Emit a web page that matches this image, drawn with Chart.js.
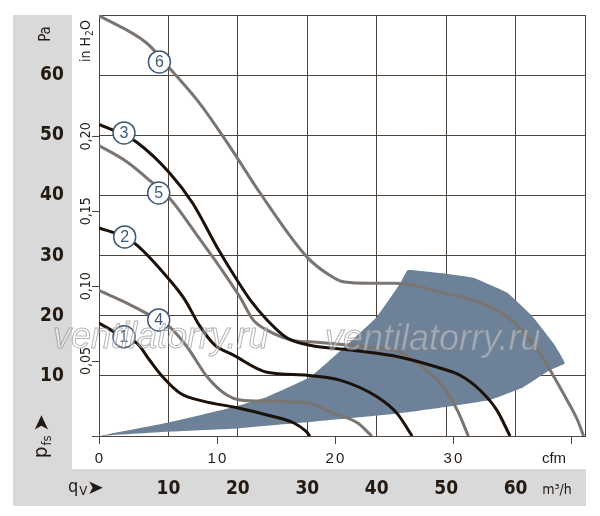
<!DOCTYPE html>
<html>
<head>
<meta charset="utf-8">
<script src="https://cdn.jsdelivr.net/npm/chart.js@4.4.0/dist/chart.umd.min.js"></script>
<style>
  html, body { margin: 0; padding: 0; background: #fff; }
  #wrap { width: 600px; height: 516px; }
</style>
</head>
<body>
<div id="wrap"><canvas id="fanChart" width="600" height="516"></canvas></div>
<script>
// fan curves: air flow q in m3/h, static pressure p in Pa
var q1 = [0, 3.6, 5.5, 7.3, 9.2, 11.7, 15.0, 19.9, 24.2, 28.0, 29.8, 30.4];
var p1 = [18.8, 16.4, 15.4, 12.6, 9.8, 7.1, 5.8, 4.7, 3.5, 2.2, 0.8, 0];

var q2 = [0, 3.7, 5.5, 10.2, 12.4, 14.5, 16.7, 19.3, 24.2, 30.0, 34.7, 40.1, 42.9, 45.1];
var p2 = [34.6, 33.1, 31.7, 25.9, 22.6, 18.3, 15.1, 13.5, 10.6, 10.1, 9.3, 6.5, 3.8, 0];

var q3 = [0, 3.7, 5.5, 10.2, 13.5, 17.0, 19.9, 21.8, 24.2, 27.1, 30.4, 36.2, 43.4, 49.1, 52.0, 54.9, 57.3, 59.2];
var p3 = [51.8, 50.0, 48.8, 43.7, 38.7, 31.4, 25.9, 22.6, 19.3, 16.3, 15.1, 14.3, 13.1, 11.3, 10.1, 7.6, 4.3, 0];

var q4 = [0, 4.0, 7.3, 10.2, 12.7, 15.6, 18.4, 20.3, 24.2, 30.0, 33.7, 37.2, 39.3];
var p4 = [24.2, 22.1, 20.1, 18.1, 14.8, 9.8, 6.8, 6.0, 5.8, 5.5, 3.8, 2.2, 0];

var q5 = [0, 4.0, 7.3, 10.2, 14.6, 17.4, 20.3, 22.2, 24.2, 28.0, 31.4, 38.6, 43.4, 45.2, 49.1, 51.6, 53.2];
var p5 = [48.3, 45.6, 42.5, 39.5, 32.6, 28.1, 23.1, 19.3, 17.6, 15.9, 15.6, 14.8, 14.0, 12.6, 8.8, 4.3, 0];

var q6 = [0, 6.9, 10.2, 14.5, 19.2, 23.2, 30.0, 33.7, 35.4, 39.0, 42.7, 45.2, 49.1, 53.9, 58.8, 61.1, 63.5, 65.4, 67.4, 68.9, 69.8];
var p6 = [69.9, 65.3, 61.1, 55.3, 47.5, 40.4, 29.7, 26.4, 25.6, 25.4, 25.4, 25.1, 23.9, 22.6, 19.8, 17.3, 13.8, 10.1, 6.0, 2.7, 0];

// operating area outline (upper edge, arc, then lower edge back to 0)
var areaQ = [0, 9.8, 19.3, 24.2, 30.4, 34.7, 40.0, 43.4, 44.5, 49.1, 53.9, 58.8, 62.5, 65.4, 67.1, 65.0, 61.1, 56.3, 49.1, 43.4, 29.0, 19.3, 9.8, 0];
var areaP = [0, 2.2, 4.8, 6.5, 9.8, 14.1, 19.8, 25.4, 27.6, 27.1, 26.3, 23.8, 19.8, 15.5, 12.1, 11.0, 8.1, 6.0, 4.7, 3.8, 2.2, 1.2, 0.7, 0];

// circled curve numbers
var curveNames = ['1', '2', '3', '4', '5', '6'];
var labelQ = [3.6, 3.7, 3.6, 8.6, 8.6, 8.7];
var labelP = [16.5, 33.1, 50.4, 19.3, 40.4, 62.2];

// tick labels
var paTicks = [10, 20, 30, 40, 50, 60];
var flowTicks = [10, 20, 30, 40, 50, 60];
var inH2OTicks = [0, 0.05, 0.10, 0.15, 0.20];
var inH2OLabels = ['', '0,05', '0,10', '0,15', '0,20'];
var cfmTicks = [0, 10, 20, 30, 40];
var cfmLabels = ['0', '10', '20', '30', ''];

var PA_PER_INH2O = 249.09;
var M3H_PER_CFM = 1.699;

var BLACK = '#1c1109';
var GRAY = '#7b7571';
var GRID = '#4e443b';
var TEXT = '#231a12';
var NARROW = "'Liberation Sans Narrow', 'DejaVu Sans Condensed', 'Liberation Sans', sans-serif";

function toPoints(qs, ps) {
    return qs.map(function (q, i) { return { x: q, y: ps[i] }; });
}

function curve(qs, ps, color) {
    return {
        data: toPoints(qs, ps),
        showLine: true,
        borderColor: color,
        borderWidth: 3,
        pointRadius: 0,
        cubicInterpolationMode: 'monotone',
        fill: false,
        order: 1
    };
}

function rotatedText(ctx, text, x, y) {
    ctx.save();
    ctx.translate(x, y);
    ctx.rotate(-Math.PI / 2);
    ctx.fillText(text, 0, 0);
    ctx.restore();
}

var framePlugin = {
    id: 'frame',
    beforeDraw: function (chart) {
        var ctx = chart.ctx;
        ctx.save();
        ctx.fillStyle = '#ffffff';
        ctx.fillRect(0, 0, chart.width, chart.height);
        ctx.fillStyle = '#d9d9d9';
        ctx.fillRect(13, 15, 59, 491);
        ctx.fillRect(13, 469, 573, 37);
        ctx.restore();
    },
    afterDatasetsDraw: function (chart) {
        var ctx = chart.ctx;
        var xs = chart.scales.x, ys = chart.scales.y;
        ctx.save();
        // numbers inside the circles
        ctx.fillStyle = '#3f5a78';
        ctx.font = "16px 'Liberation Sans', sans-serif";
        ctx.textAlign = 'center';
        ctx.textBaseline = 'middle';
        curveNames.forEach(function (n, i) {
            ctx.fillText(n, xs.getPixelForValue(labelQ[i]), ys.getPixelForValue(labelP[i]) + 1);
        });
        // watermark
        ctx.font = "italic 36px 'Liberation Sans', sans-serif";
        ctx.textAlign = 'left';
        ctx.textBaseline = 'alphabetic';
        ctx.fillStyle = 'rgba(255,255,255,0.35)';
        ctx.strokeStyle = 'rgba(130,130,130,0.6)';
        ctx.lineWidth = 1;
        [[53, 348], [325, 350]].forEach(function (pos) {
            ctx.fillText('ventilatorry.ru', pos[0], pos[1]);
            ctx.strokeText('ventilatorry.ru', pos[0], pos[1]);
        });
        ctx.restore();
    },
    afterDraw: function (chart) {
        var ctx = chart.ctx;
        var xs = chart.scales.x, ys = chart.scales.y;
        var left = chart.chartArea.left, bottom = chart.chartArea.bottom;
        ctx.save();
        ctx.fillStyle = TEXT;
        ctx.strokeStyle = GRID;
        ctx.lineWidth = 1;
        ctx.textAlign = 'center';
        ctx.textBaseline = 'middle';

        // Pa labels in the grey band
        ctx.font = 'bold 19px ' + NARROW;
        paTicks.forEach(function (v) {
            ctx.fillText(String(v), 52, ys.getPixelForValue(v));
        });
        // m3/h labels in the grey band
        flowTicks.forEach(function (v) {
            ctx.fillText(String(v), xs.getPixelForValue(v), 489);
        });
        ctx.font = '15px ' + NARROW;
        rotatedText(ctx, 'Pa', 46, 34);
        ctx.font = '14px ' + NARROW;
        ctx.fillText('m³/h', 557, 490);

        // p_fs with arrow
        ctx.font = "21px 'DejaVu Sans', sans-serif";
        rotatedText(ctx, '➤', 43, 423);
        ctx.save();
        ctx.translate(42, 458);
        ctx.rotate(-Math.PI / 2);
        ctx.textAlign = 'left';
        ctx.font = '20px ' + NARROW;
        ctx.fillText('p', 0, 0);
        var pw = ctx.measureText('p').width;
        ctx.font = '13px ' + NARROW;
        ctx.fillText('fs', pw + 1, 6);
        ctx.restore();

        // q_V with arrow
        ctx.textAlign = 'left';
        ctx.font = '18px ' + NARROW;
        ctx.fillText('q', 68, 487);
        var qw = ctx.measureText('q').width;
        ctx.font = '13px ' + NARROW;
        ctx.fillText('V', 68 + qw + 1, 492);
        ctx.font = "20px 'DejaVu Sans', sans-serif";
        ctx.fillText('➤', 87, 489);
        ctx.textAlign = 'center';

        // in H2O axis
        ctx.beginPath();
        inH2OTicks.forEach(function (v) {
            var y = Math.round(ys.getPixelForValue(v * PA_PER_INH2O)) + 0.5;
            ctx.moveTo(left - 7, y);
            ctx.lineTo(left, y);
        });
        // cfm axis
        cfmTicks.forEach(function (v) {
            var x = Math.round(xs.getPixelForValue(v * M3H_PER_CFM)) + 0.5;
            ctx.moveTo(x, bottom);
            ctx.lineTo(x, bottom + 8);
        });
        ctx.stroke();

        ctx.font = '14px ' + NARROW;
        inH2OTicks.forEach(function (v, i) {
            if (inH2OLabels[i]) rotatedText(ctx, inH2OLabels[i], 86, ys.getPixelForValue(v * PA_PER_INH2O));
        });
        ctx.save();
        ctx.translate(86, 40);
        ctx.rotate(-Math.PI / 2);
        ctx.textAlign = 'left';
        ctx.fillText('in H', -22, 0);
        var w = ctx.measureText('in H').width;
        ctx.font = '10px ' + NARROW;
        ctx.fillText('2', -22 + w + 1, 4);
        ctx.font = '14px ' + NARROW;
        ctx.fillText('O', -22 + w + 7, 0);
        ctx.restore();

        ctx.font = "15px 'Liberation Sans', sans-serif";
        ctx.letterSpacing = '2px';
        cfmTicks.forEach(function (v, i) {
            if (cfmLabels[i]) ctx.fillText(cfmLabels[i], xs.getPixelForValue(v * M3H_PER_CFM) + 1, 459);
        });
        ctx.letterSpacing = '0px';
        ctx.fillText('cfm', 554, 459);
        ctx.restore();
    }
};

var datasets = [
    {
        data: curveNames.map(function (n, i) { return { x: labelQ[i], y: labelP[i] }; }),
        pointRadius: 11,
        pointBackgroundColor: '#ffffff',
        pointBorderColor: '#3f5a78',
        pointBorderWidth: 1.5,
        showLine: false,
        order: 0
    },
    curve(q1, p1, BLACK),
    curve(q2, p2, BLACK),
    curve(q3, p3, BLACK),
    curve(q4, p4, GRAY),
    curve(q5, p5, GRAY),
    curve(q6, p6, GRAY),
    {
        data: toPoints(areaQ, areaP),
        showLine: true,
        borderWidth: 0,
        borderColor: 'rgba(0,0,0,0)',
        backgroundColor: '#6d8198',
        pointRadius: 0,
        tension: 0.1,
        fill: 'shape',
        order: 2
    }
];

var ctx = document.getElementById('fanChart').getContext('2d');
var fanChart = new Chart(ctx, {
    type: 'scatter',
    data: { datasets: datasets },
    options: {
        responsive: false,
        animation: false,
        layout: { padding: { left: 99, top: 15, right: 15, bottom: 80 } },
        plugins: {
            legend: { display: false },
            tooltip: { enabled: false }
        },
        scales: {
            x: {
                type: 'linear',
                min: 0,
                max: 70,
                ticks: { display: false, stepSize: 10 },
                grid: { color: GRID, drawTicks: false },
                border: { color: GRID }
            },
            y: {
                type: 'linear',
                min: 0,
                max: 70,
                ticks: { display: false, stepSize: 10 },
                grid: { color: GRID, drawTicks: false },
                border: { color: GRID }
            }
        }
    },
    plugins: [framePlugin]
});
</script>
</body>
</html>
